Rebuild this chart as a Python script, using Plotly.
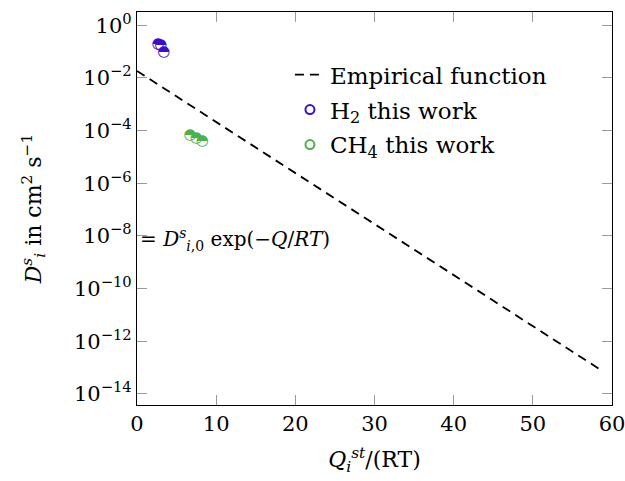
import plotly.graph_objects as go

# Data
h2_q = [2.65, 3.0, 3.4]
h2_d = [0.195, 0.18, 0.091]
ch4_q = [6.7, 7.5, 8.25]
ch4_d = [6.8e-5, 5.1e-5, 3.8e-5]
emp_q = [0.0, 58.4]
emp_d = [0.0184, 8.9e-14]

x_ticks = [0, 10, 20, 30, 40, 50, 60]
y_tick_vals = [1e0, 1e-2, 1e-4, 1e-6, 1e-8, 1e-10, 1e-12, 1e-14]
y_tick_text = ["10<sup>0</sup>", "10<sup>−2</sup>", "10<sup>−4</sup>", "10<sup>−6</sup>",
               "10<sup>−8</sup>", "10<sup>−10</sup>", "10<sup>−12</sup>", "10<sup>−14</sup>"]

H2_COLOR = "#3d0fc4"
CH4_COLOR = "#4caf50"
FONT = "DejaVu Serif"

fig = go.Figure()
fig.add_trace(go.Scatter(x=emp_q, y=emp_d, mode="lines", name="Empirical function",
                         line=dict(color="black", width=1.8, dash="9px,6px"),
                         legendgroup="a"))
# legend-only entries
for nm, c, g in [("H<sub>2</sub> this work", H2_COLOR, "b"), ("CH<sub>4</sub> this work", CH4_COLOR, "c")]:
    fig.add_trace(go.Scatter(x=[None], y=[None], mode="markers", name=nm,
                             marker=dict(symbol="circle-open", size=9, color=c,
                                         line=dict(width=2, color=c)),
                             legendgroup=g))
# data drawn as half-filled circle glyphs
for q, d, c in [(h2_q, h2_d, H2_COLOR), (ch4_q, ch4_d, CH4_COLOR)]:
    fig.add_trace(go.Scatter(x=q, y=d, mode="text", text=["◓"] * len(q),
                             textposition="middle center", cliponaxis=False,
                             textfont=dict(family="DejaVu Sans", size=15, color=c),
                             showlegend=False, hoverinfo="skip"))

axis_common = dict(showgrid=False, zeroline=False, showline=True, linecolor="black",
                   linewidth=1.2, mirror="ticks", ticks="inside", ticklen=10,
                   tickcolor="#9a9a9a", tickwidth=1.2, automargin=False,
                   ticklabeloverflow="allow",
                   tickfont=dict(family=FONT, size=21, color="black"))

fig.update_xaxes(range=[0, 60], tickvals=x_ticks, ticktext=[str(v) for v in x_ticks],
                 title=dict(text="<i>Q</i><sub><i>i</i></sub><sup><i>st</i></sup>/(RT)",
                            font=dict(family=FONT, size=22), standoff=16),
                 **axis_common)
fig.update_yaxes(type="log", range=[-14.42, 0.505], tickvals=y_tick_vals, ticktext=y_tick_text,
                 title=dict(text="<i>D</i><sup><i>s</i></sup><sub><i>i</i></sub> in cm<sup>2</sup> s<sup>−1</sup>",
                            font=dict(family=FONT, size=22), standoff=26),
                 **axis_common)

fig.add_annotation(xref="paper", x=0.003, xanchor="left", yref="y", y=-8.15, yanchor="middle",
                   text="= <i>D</i><sup><i>s</i></sup><sub><i>i</i>,0</sub> exp(−<i>Q</i>/<i>RT</i>)",
                   showarrow=False, font=dict(family=FONT, size=20, color="black"))

fig.update_layout(width=625, height=481,
                  margin=dict(l=137, r=13, t=12, b=76),
                  paper_bgcolor="white", plot_bgcolor="white",
                  font=dict(family=FONT, size=22, color="black"),
                  legend=dict(x=0.322, y=0.895, xanchor="left", yanchor="top",
                              bgcolor="white", borderwidth=0, tracegroupgap=2,
                              font=dict(family=FONT, size=23)),
                  showlegend=True)

fig.write_html("out.html", config={"displayModeBar": False},
               post_script="document.body.style.margin='0';")
